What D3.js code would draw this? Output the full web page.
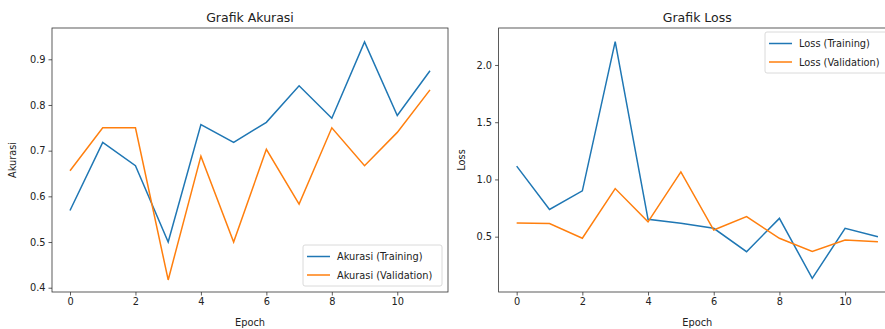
<!DOCTYPE html>
<html><head><meta charset="utf-8">
<script src="https://cdn.jsdelivr.net/npm/d3@7/dist/d3.min.js"></script>
<style>body{margin:0;background:#fff;overflow:hidden}svg{display:block;font-family:"DejaVu Sans",sans-serif}</style>
</head><body>
<script>
const epochs = [0,1,2,3,4,5,6,7,8,9,10,11];
const accTrain = [0.569,0.718,0.667,0.500,0.757,0.718,0.762,0.842,0.771,0.938,0.777,0.875];
const accVal   = [0.656,0.750,0.750,0.417,0.688,0.500,0.703,0.583,0.750,0.667,0.740,0.833];
const lossTrain = [1.116,0.738,0.900,2.204,0.652,0.617,0.573,0.369,0.660,0.136,0.573,0.500];
const lossVal   = [0.620,0.614,0.486,0.920,0.630,1.066,0.558,0.675,0.486,0.370,0.470,0.455];
const xTicks = [0,2,4,6,8,10];
const accTicks = [0.4,0.5,0.6,0.7,0.8,0.9];
const lossTicks = [0.5,1.0,1.5,2.0];

const W = 885, H = 329;
const svg = d3.select("body").append("svg").attr("width", W).attr("height", H);
const blue = "#1f77b4", orange = "#ff7f0e";
const FS = 9.8;

function panel(opts) {
  const {left, right, top, bottom, yDomain, yTicks, yFmt, train, val, title, ylabel, names, legend} = opts;
  const x = d3.scaleLinear().domain([-0.55, 11.55]).range([left, right]);
  const y = d3.scaleLinear().domain(yDomain).range([bottom, top]);
  const g = svg.append("g");
  const clipId = "c" + Math.round(left);
  g.append("clipPath").attr("id", clipId).append("rect")
    .attr("x", left).attr("y", top).attr("width", right - left).attr("height", bottom - top);
  const line = d3.line().x((d, i) => x(epochs[i])).y(d => y(d));
  g.append("path").datum(train).attr("d", line).attr("fill", "none").attr("stroke", blue).attr("stroke-width", 1.5).attr("clip-path", `url(#${clipId})`);
  g.append("path").datum(val).attr("d", line).attr("fill", "none").attr("stroke", orange).attr("stroke-width", 1.5).attr("clip-path", `url(#${clipId})`);
  g.append("rect").attr("x", left).attr("y", top).attr("width", right - left).attr("height", bottom - top)
    .attr("fill", "none").attr("stroke", "#333").attr("stroke-width", 0.8);
  const xa = g.append("g").attr("transform", `translate(0,${bottom})`)
    .call(d3.axisBottom(x).tickValues(xTicks).tickFormat(d3.format("d")).tickSize(3.5).tickPadding(3));
  const ya = g.append("g").attr("transform", `translate(${left},0)`)
    .call(d3.axisLeft(y).tickValues(yTicks).tickFormat(yFmt).tickSize(3.5).tickPadding(3));
  [xa, ya].forEach(a => {
    a.select(".domain").remove();
    a.selectAll("line").attr("stroke", "#333").attr("stroke-width", 0.8);
    a.selectAll("text").attr("font-size", FS).attr("fill", "#222").attr("font-family", "DejaVu Sans, sans-serif");
  });
  g.append("text").attr("x", (left + right) / 2).attr("y", 22).attr("text-anchor", "middle")
    .attr("font-size", 12.5).attr("fill", "#222").text(title);
  g.append("text").attr("x", (left + right) / 2).attr("y", 326).attr("text-anchor", "middle")
    .attr("font-size", FS).attr("fill", "#222").text("Epoch");
  g.append("text").attr("transform", `translate(${opts.ylabelX},${(top + bottom) / 2}) rotate(-90)`)
    .attr("text-anchor", "middle").attr("font-size", FS).attr("fill", "#222").text(ylabel);
  // legend
  const lg = g.append("g");
  lg.append("rect").attr("x", legend.x).attr("y", legend.y).attr("width", legend.w).attr("height", legend.h)
    .attr("rx", 2).attr("fill", "#fff").attr("fill-opacity", 0.8).attr("stroke", "#d0d0d0").attr("stroke-width", 0.8);
  [[names[0], blue], [names[1], orange]].forEach((e, i) => {
    const yy = legend.y + 11.5 + i * 18.5;
    lg.append("line").attr("x1", legend.x + 4).attr("x2", legend.x + 27).attr("y1", yy).attr("y2", yy)
      .attr("stroke", e[1]).attr("stroke-width", 1.5);
    lg.append("text").attr("x", legend.x + 34).attr("y", yy + 3.5).attr("font-size", FS).attr("fill", "#222").text(e[0]);
  });
}

panel({left: 52, right: 448, top: 28, bottom: 292, yDomain: [0.3906, 0.9685], yTicks: accTicks,
  yFmt: d3.format(".1f"), train: accTrain, val: accVal, title: "Grafik Akurasi", ylabel: "Akurasi", ylabelX: 16,
  names: ["Akurasi (Training)", "Akurasi (Validation)"], legend: {x: 303, y: 245, w: 139, h: 41}});
panel({left: 498.6, right: 896, top: 28, bottom: 292, yDomain: [0.0166, 2.323], yTicks: lossTicks,
  yFmt: d3.format(".1f"), train: lossTrain, val: lossVal, title: "Grafik Loss", ylabel: "Loss", ylabelX: 465,
  names: ["Loss (Training)", "Loss (Validation)"], legend: {x: 765, y: 32, w: 128, h: 41}});
</script>
</body></html>
